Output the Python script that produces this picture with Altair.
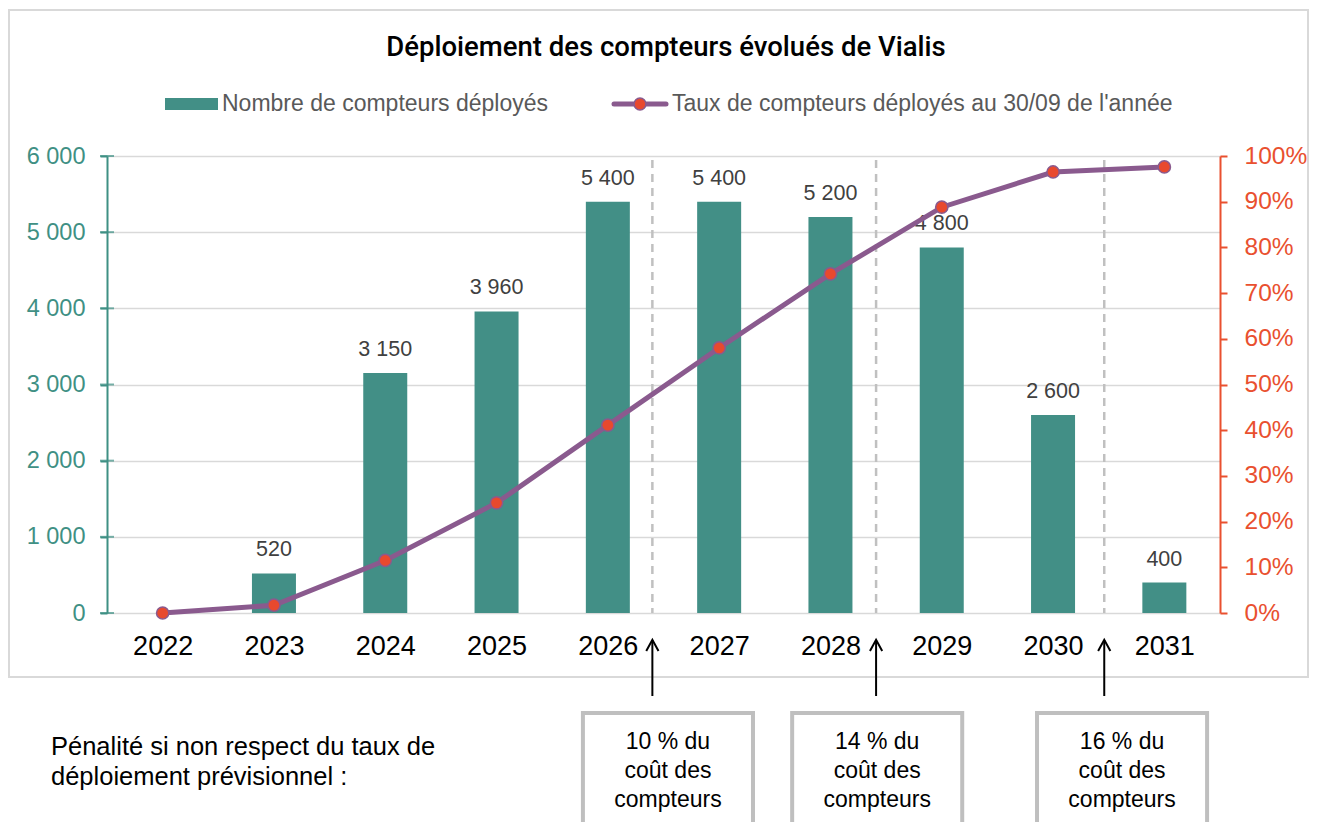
import altair as alt
import pandas as pd

# ---------------- data ----------------
years = [2022, 2023, 2024, 2025, 2026, 2027, 2028, 2029, 2030, 2031]
compteurs = [None, 520, 3150, 3960, 5400, 5400, 5200, 4800, 2600, 400]
taux = [0.0, 0.017, 0.115, 0.241, 0.411, 0.58, 0.742, 0.888, 0.965, 0.976]
left_ticks = [0, 1000, 2000, 3000, 4000, 5000, 6000]
right_ticks = [0.0, 0.1, 0.2, 0.3, 0.4, 0.5, 0.6, 0.7, 0.8, 0.9, 1.0]

jalons = [2026.4, 2028.41, 2030.46]
penalites = ["10 % du\ncoût des\ncompteurs", "14 % du\ncoût des\ncompteurs", "16 % du\ncoût des\ncompteurs"]
box_centres = [2026.54, 2028.42, 2030.62]
box_half = 0.764

titre = "Déploiement des compteurs évolués de Vialis"
serie_barres = "Nombre de compteurs déployés"
serie_ligne = "Taux de compteurs déployés au 30/09 de l'année"
texte_penalite = "Pénalité si non respect du taux de\ndéploiement prévisionnel :"

# ---------------- styles ----------------
TEAL = "#428f86"
TEAL_AX = "#3f9084"
PURPLE = "#8a5a8e"
RED = "#e8492e"
RED_AX = "#e9502f"
GRID = "#d9d9d9"
FONT = "Liberation Sans"
W, H = 1113, 457

df = pd.DataFrame({"annee": years, "compteurs": compteurs, "taux": taux})
df["etiquette"] = [("" if v is None else f"{int(v):,}".replace(",", " ")) for v in compteurs]

jal = pd.DataFrame({"x": jalons})
boxes = pd.DataFrame({
    "c": box_centres,
    "x0": [c - box_half for c in box_centres],
    "x1": [c + box_half for c in box_centres],
    "t": penalites,
})
ticks_df = pd.DataFrame({"v": left_ticks})
one = pd.DataFrame({"a": [0]})

xscale = alt.Scale(domain=[2021.5, 2031.5], nice=False, zero=False, padding=0)
xaxis = alt.Axis(values=years, format="d", title=None, ticks=False, tickSize=0, domain=False,
                 grid=False, labelFontSize=27, labelColor="#000000", labelPadding=20,
                 labelFont=FONT)


def X(field):
    return alt.X(f"{field}:Q", scale=xscale, axis=xaxis)


yleft_scale = alt.Scale(domain=[0, 6000], nice=False, zero=True)
yleft_axis = alt.Axis(orient="left", values=left_ticks, title=None, grid=True, gridColor=GRID,
                      gridWidth=1.5, domainColor=TEAL_AX, domainWidth=2, tickColor=TEAL_AX,
                      tickWidth=2, tickSize=7, labelColor=TEAL_AX, labelFontSize=23.5,
                      labelPadding=15, labelFont=FONT,
                      labelExpr="replace(format(datum.value, ','), ',', ' ')")

yright_scale = alt.Scale(domain=[0, 1], nice=False, zero=True)
yright_axis = alt.Axis(orient="right", values=right_ticks, format=".0%", title=None, grid=False,
                       domainColor=RED_AX, domainWidth=2, tickColor=RED_AX, tickWidth=2,
                       tickSize=7, labelColor=RED_AX, labelFontSize=24.5, labelPadding=17,
                       labelFont=FONT)

base = alt.Chart(df)

bars = base.mark_bar(color=TEAL, size=44).encode(
    x=X("annee"),
    y=alt.Y("compteurs:Q", scale=yleft_scale, axis=yleft_axis),
)
bar_labels = base.transform_filter("isValid(datum.compteurs)").mark_text(
    fontSize=21.5, font=FONT, color="#404040", baseline="alphabetic", dy=-17
).encode(
    x=X("annee"),
    y=alt.Y("compteurs:Q", scale=yleft_scale, axis=yleft_axis),
    text="etiquette:N",
)
inner_ticks = alt.Chart(ticks_df).mark_tick(color=TEAL_AX, thickness=2, size=14).encode(
    y=alt.Y("v:Q", scale=yleft_scale, axis=yleft_axis),
    x=alt.value(0),
)
left = alt.layer(bars, bar_labels, inner_ticks)

line = base.mark_line(color=PURPLE, strokeWidth=5).encode(
    x=X("annee"),
    y=alt.Y("taux:Q", scale=yright_scale, axis=yright_axis),
)
points = base.mark_point(filled=True, fill=RED, stroke=PURPLE, strokeWidth=1.5, size=150,
                         opacity=1).encode(
    x=X("annee"),
    y=alt.Y("taux:Q", scale=yright_scale, axis=yright_axis),
)
right = alt.layer(line, points)

# decorations
frame = alt.Chart(one).mark_rect(filled=False, color="#d9d9d9", strokeWidth=2).encode(
    x=alt.value(-98), x2=alt.value(1201), y=alt.value(-146), y2=alt.value(521)
)
title_mark = alt.Chart(one).mark_text(text=titre, fontSize=27.5, font="Roboto", fontWeight=500,
                                      color="#000000", baseline="middle", align="center").encode(
    x=alt.value(559), y=alt.value(-108)
)
leg_rect = alt.Chart(one).mark_rect(color=TEAL).encode(
    x=alt.value(58), x2=alt.value(111), y=alt.value(-58), y2=alt.value(-46)
)
leg_txt1 = alt.Chart(one).mark_text(text=serie_barres, fontSize=23, font=FONT, color="#595959",
                                    align="left", baseline="middle").encode(
    x=alt.value(115), y=alt.value(-52)
)
leg_line = alt.Chart(one).mark_rule(color=PURPLE, strokeWidth=5, strokeCap="round").encode(
    x=alt.value(507), x2=alt.value(559), y=alt.value(-52)
)
leg_pt = alt.Chart(one).mark_point(filled=True, fill=RED, stroke=PURPLE, strokeWidth=1.5,
                                   size=140, opacity=1).encode(
    x=alt.value(533), y=alt.value(-52)
)
leg_txt2 = alt.Chart(one).mark_text(text=serie_ligne, fontSize=23, font=FONT, color="#595959",
                                    align="left", baseline="middle").encode(
    x=alt.value(565), y=alt.value(-52)
)

separators = alt.Chart(jal).mark_rule(color="#c0c0c0", strokeWidth=2.5, strokeDash=[8, 6]).encode(
    x=X("x"), y=alt.value(4), y2=alt.value(H)
)
arrows = alt.Chart(jal).mark_rule(color="#000000", strokeWidth=2).encode(
    x=X("x"), y=alt.value(540), y2=alt.value(484)
)
arrow_heads = alt.Chart(jal).mark_point(shape="M-1,0.8L0,-1L1,0.8", filled=False, color="#000000",
                                        strokeWidth=2, size=150, opacity=1).encode(
    x=X("x"), y=alt.value(490)
)
box_rects = alt.Chart(boxes).mark_rect(filled=False, color="#bfbfbf", strokeWidth=4).encode(
    x=X("x0"), x2=alt.X2("x1"), y=alt.value(557), y2=alt.value(720)
)
box_text = alt.Chart(boxes).mark_text(fontSize=23, font=FONT, color="#000000", lineBreak="\n",
                                      lineHeight=29, align="center", baseline="middle").encode(
    x=X("c"), y=alt.value(586), text="t:N"
)
penalty = alt.Chart(one).mark_text(text=texte_penalite, fontSize=25.5, font=FONT, color="#000000",
                                   lineBreak="\n", lineHeight=30, align="left",
                                   baseline="middle").encode(
    x=alt.value(-56), y=alt.value(591)
)

chart = alt.layer(
    frame, title_mark, leg_rect, leg_txt1, leg_line, leg_pt, leg_txt2,
    left, separators, right, arrows, arrow_heads, box_rects, box_text, penalty,
).resolve_scale(y="independent").properties(
    width=W, height=H,
    autosize=alt.AutoSizeParams(type="none"),
    padding={"left": 99, "top": 148, "right": 89, "bottom": 209},
    background="#ffffff",
).configure_view(stroke=None)

chart.save("out.html", embed_options={"renderer": "svg", "actions": False})
